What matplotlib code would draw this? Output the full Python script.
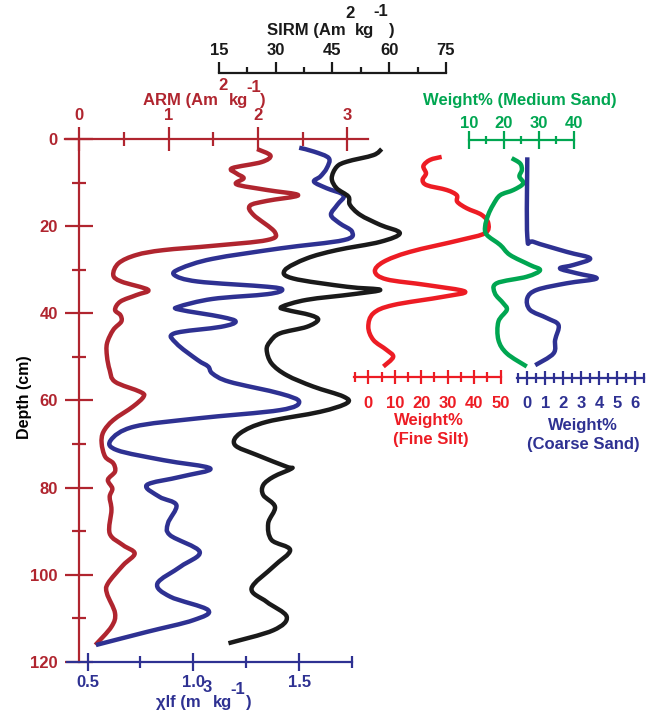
import matplotlib
matplotlib.use("Agg")
import matplotlib.pyplot as plt
from matplotlib.path import Path
from matplotlib.patches import PathPatch

plt.rcParams['font.family'] = ['Liberation Sans', 'DejaVu Sans']
plt.rcParams['font.weight'] = 'bold'

# ---------------- data (depth in cm) ----------------
arm_depth = [2.3, 3.8, 5.3, 6.7, 7.9, 9.0, 10.4, 11.7, 12.9, 14.2, 15.3, 17.4, 21.4, 23.2, 24.5,
             25.5, 26.6, 28.5, 31.2, 32.7, 34.6, 35.8, 37.3, 39.2, 40.4, 41.9, 43.8, 46.9, 49.9,
             53.0, 55.7, 58.0, 59.1, 61.4, 64.5, 67.2, 69.8, 72.9, 74.4, 76.3, 78.2, 80.2, 82.1,
             85.1, 90.5, 93.2, 95.1, 97.8, 102.0, 104.3, 108.8, 111.9, 116.1]
arm_value = [1.99, 2.14, 2.04, 1.71, 1.76, 1.84, 1.76, 2.10, 2.45, 2.10, 1.91, 1.95, 2.19, 2.10, 1.50,
             0.94, 0.64, 0.44, 0.38, 0.47, 0.77, 0.64, 0.46, 0.40, 0.46, 0.47, 0.38, 0.31, 0.31,
             0.34, 0.40, 0.68, 0.72, 0.60, 0.38, 0.27, 0.25, 0.29, 0.38, 0.40, 0.32, 0.37, 0.34,
             0.36, 0.34, 0.49, 0.62, 0.49, 0.32, 0.31, 0.40, 0.36, 0.18]

chi_depth = [2.0, 2.9, 4.4, 6.7, 8.6, 9.8, 11.3, 12.9, 15.1, 17.4, 19.3, 21.3, 23.2, 25.1, 27.5,
             29.7, 31.2, 32.7, 33.9, 34.6, 35.6, 36.7, 38.5, 39.2, 40.8, 41.9, 43.1, 44.6, 46.9,
             50.7, 52.2, 53.8, 55.7, 58.4, 60.3, 62.2, 64.1, 66.0, 69.1, 71.4, 73.7, 75.6, 77.5,
             79.4, 82.1, 84.0, 88.2, 90.9, 94.7, 98.1, 102.0, 105.0, 108.1, 110.4, 113.1, 116.1]
chi_value = [1.50, 1.57, 1.64, 1.63, 1.60, 1.57, 1.63, 1.71, 1.68, 1.65, 1.69, 1.75, 1.71, 1.41, 1.09,
             0.94, 0.91, 1.02, 1.35, 1.42, 1.35, 1.09, 0.93, 0.94, 1.13, 1.20, 1.13, 0.91, 0.92,
             1.02, 1.07, 1.09, 1.17, 1.41, 1.50, 1.41, 1.02, 0.72, 0.61, 0.64, 0.86, 1.08, 0.94,
             0.78, 0.84, 0.92, 0.88, 0.89, 1.03, 0.94, 0.83, 0.89, 1.07, 1.00, 0.78, 0.54]

sirm_depth = [2.3, 3.7, 5.2, 6.4, 9.0, 11.3, 13.2, 15.1, 17.4, 19.7, 21.6, 23.6, 25.5, 27.4, 30.1,
              32.0, 33.9, 34.6, 35.6, 36.9, 38.5, 39.2, 40.4, 41.5, 43.1, 44.6, 46.5, 48.4, 51.5,
              54.2, 56.8, 59.1, 60.6, 62.6, 64.9, 67.5, 70.2, 72.5, 75.2, 75.6, 77.5, 79.4, 81.7,
              84.4, 88.2, 92.0, 94.3, 98.1, 103.1, 106.2, 109.6, 112.7, 115.7]
sirm_value = [58.0, 55.8, 48.8, 46.1, 44.8, 46.1, 49.2, 49.6, 52.3, 57.6, 62.8, 57.6, 46.1, 38.2, 32.4,
              34.6, 48.8, 57.6, 50.5, 38.2, 31.6, 32.9, 39.1, 41.2, 38.2, 31.1, 28.5, 27.6, 28.9,
              32.9, 39.9, 47.9, 48.8, 41.7, 27.6, 20.6, 19.2, 25.0, 32.9, 34.2, 29.4, 26.7, 26.7,
              29.8, 28.0, 28.9, 33.8, 29.4, 23.6, 27.6, 32.9, 29.4, 17.5]

silt_depth = [4.1, 4.8, 6.2, 7.9, 9.4, 10.6, 11.7, 12.9, 14.4, 15.9, 17.4, 19.3, 21.6, 23.2, 25.9,
              28.2, 30.4, 32.2, 33.5, 35.0, 36.2, 38.1, 40.0, 43.1, 46.1, 48.4, 50.0, 52.2]
silt_value = [27.7, 23.3, 20.8, 21.8, 20.5, 22.1, 29.6, 33.4, 33.6, 37.2, 42.8, 45.3, 44.1, 34.6, 15.7,
              5.7, 2.5, 6.9, 22.0, 36.5, 28.3, 9.4, 1.9, 0.0, 1.9, 6.9, 9.4, 5.7]

msand_depth = [4.4, 5.6, 7.1, 8.6, 10.2, 11.7, 12.9, 15.1, 17.4, 20.1, 22.0, 24.3, 26.6, 28.9, 30.1,
               31.6, 33.1, 35.4, 37.7, 39.2, 41.9, 46.1, 49.2, 52.2]
msand_value = [22.2, 24.6, 25.1, 24.4, 25.5, 22.7, 18.9, 16.9, 15.5, 14.6, 15.1, 18.9, 21.7, 27.4, 30.3,
               26.5, 17.9, 17.4, 19.8, 20.8, 18.4, 18.4, 20.8, 26.5]

csand_depth = [4.2, 22.4, 23.6, 25.9, 27.4, 28.9, 29.7, 30.8, 32.0, 33.1, 34.6, 36.5, 39.2, 41.1, 42.7,
               46.1, 49.2, 51.9]
csand_value = [0.0, 0.0, 0.35, 2.2, 3.5, 2.57, 1.82, 2.75, 3.86, 2.2, 0.54, 0.0, 0.15, 1.1, 1.74,
               1.55, 1.46, 0.44]

# ---------------- tick values / labels ----------------
depth_ticks = [0, 20, 40, 60, 80, 100, 120]
depth_minor = [10, 30, 50, 70, 90, 110]
arm_ticks = [0, 1, 2, 3]
arm_minor = [0.5, 1.5, 2.5]
sirm_ticks = [15, 30, 45, 60, 75]
sirm_minor = [22.5, 37.5, 52.5, 67.5]
chi_ticks = [0.5, 1.0, 1.5]
chi_labels = ['0.5', '1.0', '1.5']
chi_minor = [0.75, 1.25, 1.75]
silt_ticks = [0, 10, 20, 30, 40, 50]
silt_minor = [-5, 5, 15, 25, 35, 45]
msand_ticks = [10, 20, 30, 40]
msand_minor = [15, 25, 35]
csand_ticks = [0, 1, 2, 3, 4, 5, 6]
csand_minor = [-0.5, 0.5, 1.5, 2.5, 3.5, 4.5, 5.5, 6.5]

# ---------------- colours ----------------
C_ARM = '#b0252f'
C_CHI = '#2e3192'
C_SIRM = '#1a1a1a'
C_SILT = '#ed1c24'
C_MSAND = '#00a651'
C_CSAND = '#2e3192'

W, H, DPI = 656, 712, 100
fig = plt.figure(figsize=(W / DPI, H / DPI), dpi=DPI)

Y0_PX, Y120_PX = 139.0, 662.0
ppc = (Y120_PX - Y0_PX) / 120.0
YLIM = ((H - Y0_PX) / ppc, -Y0_PX / ppc)
LW = 3.2
ALW = 1.6
TICK_FS = 12
TITLE_FS = 12


def make_ax(v0, px0, v1, px1):
    ax = fig.add_axes([0, 0, 1, 1])
    k = (px1 - px0) / (v1 - v0)
    ax.set_xlim(v0 - px0 / k, v0 + (W - px0) / k)
    ax.set_ylim(*YLIM)
    ax.patch.set_visible(False)
    for s in ax.spines.values():
        s.set_visible(False)
    ax.set_xticks([])
    ax.set_yticks([])
    return ax


def hscale(ax, side, depth, bounds, major, labels, minor, color, direction,
           maj_len, min_len, pad, size=TICK_FS):
    sp = ax.spines[side]
    sp.set_visible(True)
    sp.set_position(('data', depth))
    sp.set_bounds(*bounds)
    sp.set_color(color)
    sp.set_linewidth(ALW)
    ax.xaxis.set_ticks_position(side)
    ax.xaxis.set_label_position(side)
    ax.set_xticks(major)
    ax.set_xticklabels(labels)
    ax.set_xticks(minor, minor=True)
    ax.tick_params(axis='x', which='major', direction=direction, length=maj_len,
                   width=ALW, color=color, labelcolor=color, pad=pad, labelsize=size)
    ax.tick_params(axis='x', which='minor', direction=direction, length=min_len,
                   width=ALW, color=color)


def smooth_curve(ax, xs, ys, color):
    """Draw a smooth (Catmull-Rom / cubic Bezier) line through the data points."""
    pts = list(zip(xs, ys))
    n = len(pts)
    verts = [pts[0]]
    codes = [Path.MOVETO]
    for i in range(n - 1):
        p0 = pts[i - 1] if i > 0 else pts[i]
        p1 = pts[i]
        p2 = pts[i + 1]
        p3 = pts[i + 2] if i + 2 < n else pts[i + 1]
        c1 = (p1[0] + (p2[0] - p0[0]) / 6.0, p1[1] + (p2[1] - p0[1]) / 6.0)
        c2 = (p2[0] - (p3[0] - p1[0]) / 6.0, p2[1] - (p3[1] - p1[1]) / 6.0)
        verts += [c1, c2, p2]
        codes += [Path.CURVE4, Path.CURVE4, Path.CURVE4]
    patch = PathPatch(Path(verts, codes), facecolor='none', edgecolor=color, lw=LW,
                      capstyle='butt', joinstyle='round')
    ax.add_patch(patch)


def ftext(x, y, s, color, size=TITLE_FS, ha='center', **kw):
    fig.text(x / W, 1 - y / H, s, color=color, fontsize=size, ha=ha, va='center',
             fontweight='bold', **kw)


# ARM axes + depth axis
ax_arm = make_ax(0, 79.3, 3, 347.3)
hscale(ax_arm, 'top', 0, (-0.16, 3.23), arm_ticks, [str(t) for t in arm_ticks], arm_minor,
       C_ARM, 'inout', 17, 10, 2.8)
sp = ax_arm.spines['left']
sp.set_visible(True)
sp.set_position(('data', 0))
sp.set_bounds(0, 120)
sp.set_color(C_ARM)
sp.set_linewidth(ALW)
ax_arm.yaxis.set_ticks_position('left')
ax_arm.set_yticks(depth_ticks)
ax_arm.set_yticklabels([str(t) for t in depth_ticks])
ax_arm.set_yticks(depth_minor, minor=True)
ax_arm.tick_params(axis='y', which='major', direction='inout', length=20, width=ALW,
                   color=C_ARM, labelcolor=C_ARM, pad=5.5, labelsize=TICK_FS)
ax_arm.tick_params(axis='y', which='minor', direction='inout', length=10, width=ALW, color=C_ARM)
smooth_curve(ax_arm, arm_value, arm_depth, C_ARM)

# chi lf
ax_chi = make_ax(0.5, 87.5, 1.5, 299.2)
hscale(ax_chi, 'bottom', 120, (0.403, 1.75), chi_ticks, chi_labels, chi_minor,
       C_CHI, 'inout', 13, 9, 3.2)
smooth_curve(ax_chi, chi_value, chi_depth, C_CHI)

# SIRM
ax_sirm = make_ax(15, 219, 75, 446)
hscale(ax_sirm, 'top', (73 - Y0_PX) / ppc, (15, 75), sirm_ticks, [str(t) for t in sirm_ticks],
       sirm_minor, C_SIRM, 'out', 7.7, 4.5, 3.0)
smooth_curve(ax_sirm, sirm_value, sirm_depth, C_SIRM)

# fine silt
ax_silt = make_ax(0, 368.3, 50, 500.7)
hscale(ax_silt, 'bottom', (377 - Y0_PX) / ppc, (-5.3, 50), silt_ticks,
       [str(t) for t in silt_ticks], silt_minor, C_SILT, 'inout', 10, 7, 8.5)
smooth_curve(ax_silt, silt_value, silt_depth, C_SILT)

# medium sand
ax_ms = make_ax(10, 469, 40, 574)
hscale(ax_ms, 'top', (140 - Y0_PX) / ppc, (10, 40), msand_ticks, [str(t) for t in msand_ticks],
       msand_minor, C_MSAND, 'inout', 13, 6, 0.3)
smooth_curve(ax_ms, msand_value, msand_depth, C_MSAND)

# coarse sand
ax_cs = make_ax(0, 527.3, 6, 635)
hscale(ax_cs, 'bottom', (378 - Y0_PX) / ppc, (-0.55, 6.5), csand_ticks,
       [str(t) for t in csand_ticks], csand_minor, C_CSAND, 'inout', 10, 6.5, 7.8)
smooth_curve(ax_cs, csand_value, csand_depth, C_CSAND)

# ---------------- titles ----------------
# SIRM (Am^2 kg^-1)
ftext(267, 30, 'SIRM (Am', C_SIRM, ha='left')
ftext(350, 14, '2', C_SIRM)
ftext(355, 30, 'kg', C_SIRM, ha='left')
ftext(381, 11, '-1', C_SIRM)
ftext(389, 30, ')', C_SIRM, ha='left')

# ARM (Am^2 kg^-1)
ftext(143, 101, 'ARM (Am', C_ARM, ha='left')
ftext(223, 86, '2', C_ARM)
ftext(229, 101, 'kg', C_ARM, ha='left')
ftext(254, 88, '-1', C_ARM)
ftext(260, 101, ')', C_ARM, ha='left')

# chi lf (m^3 kg^-1)
ftext(156, 702, 'χlf (m', C_CHI, ha='left')
ftext(207, 688, '3', C_CHI)
ftext(213, 702, 'kg', C_CHI, ha='left')
ftext(238, 690, '-1', C_CHI)
ftext(246, 702, ')', C_CHI, ha='left')

ftext(520, 100, 'Weight% (Medium Sand)', C_MSAND)
ftext(429, 421, 'Weight%', C_SILT)
ftext(431, 440, '(Fine Silt)', C_SILT)
ftext(583, 425, 'Weight%', C_CSAND)
ftext(583, 444, '(Coarse Sand)', C_CSAND)

ftext(25, 397, 'Depth (cm)', 'black', size=11.5, rotation=90)

fig.savefig('out.png', dpi=DPI)
